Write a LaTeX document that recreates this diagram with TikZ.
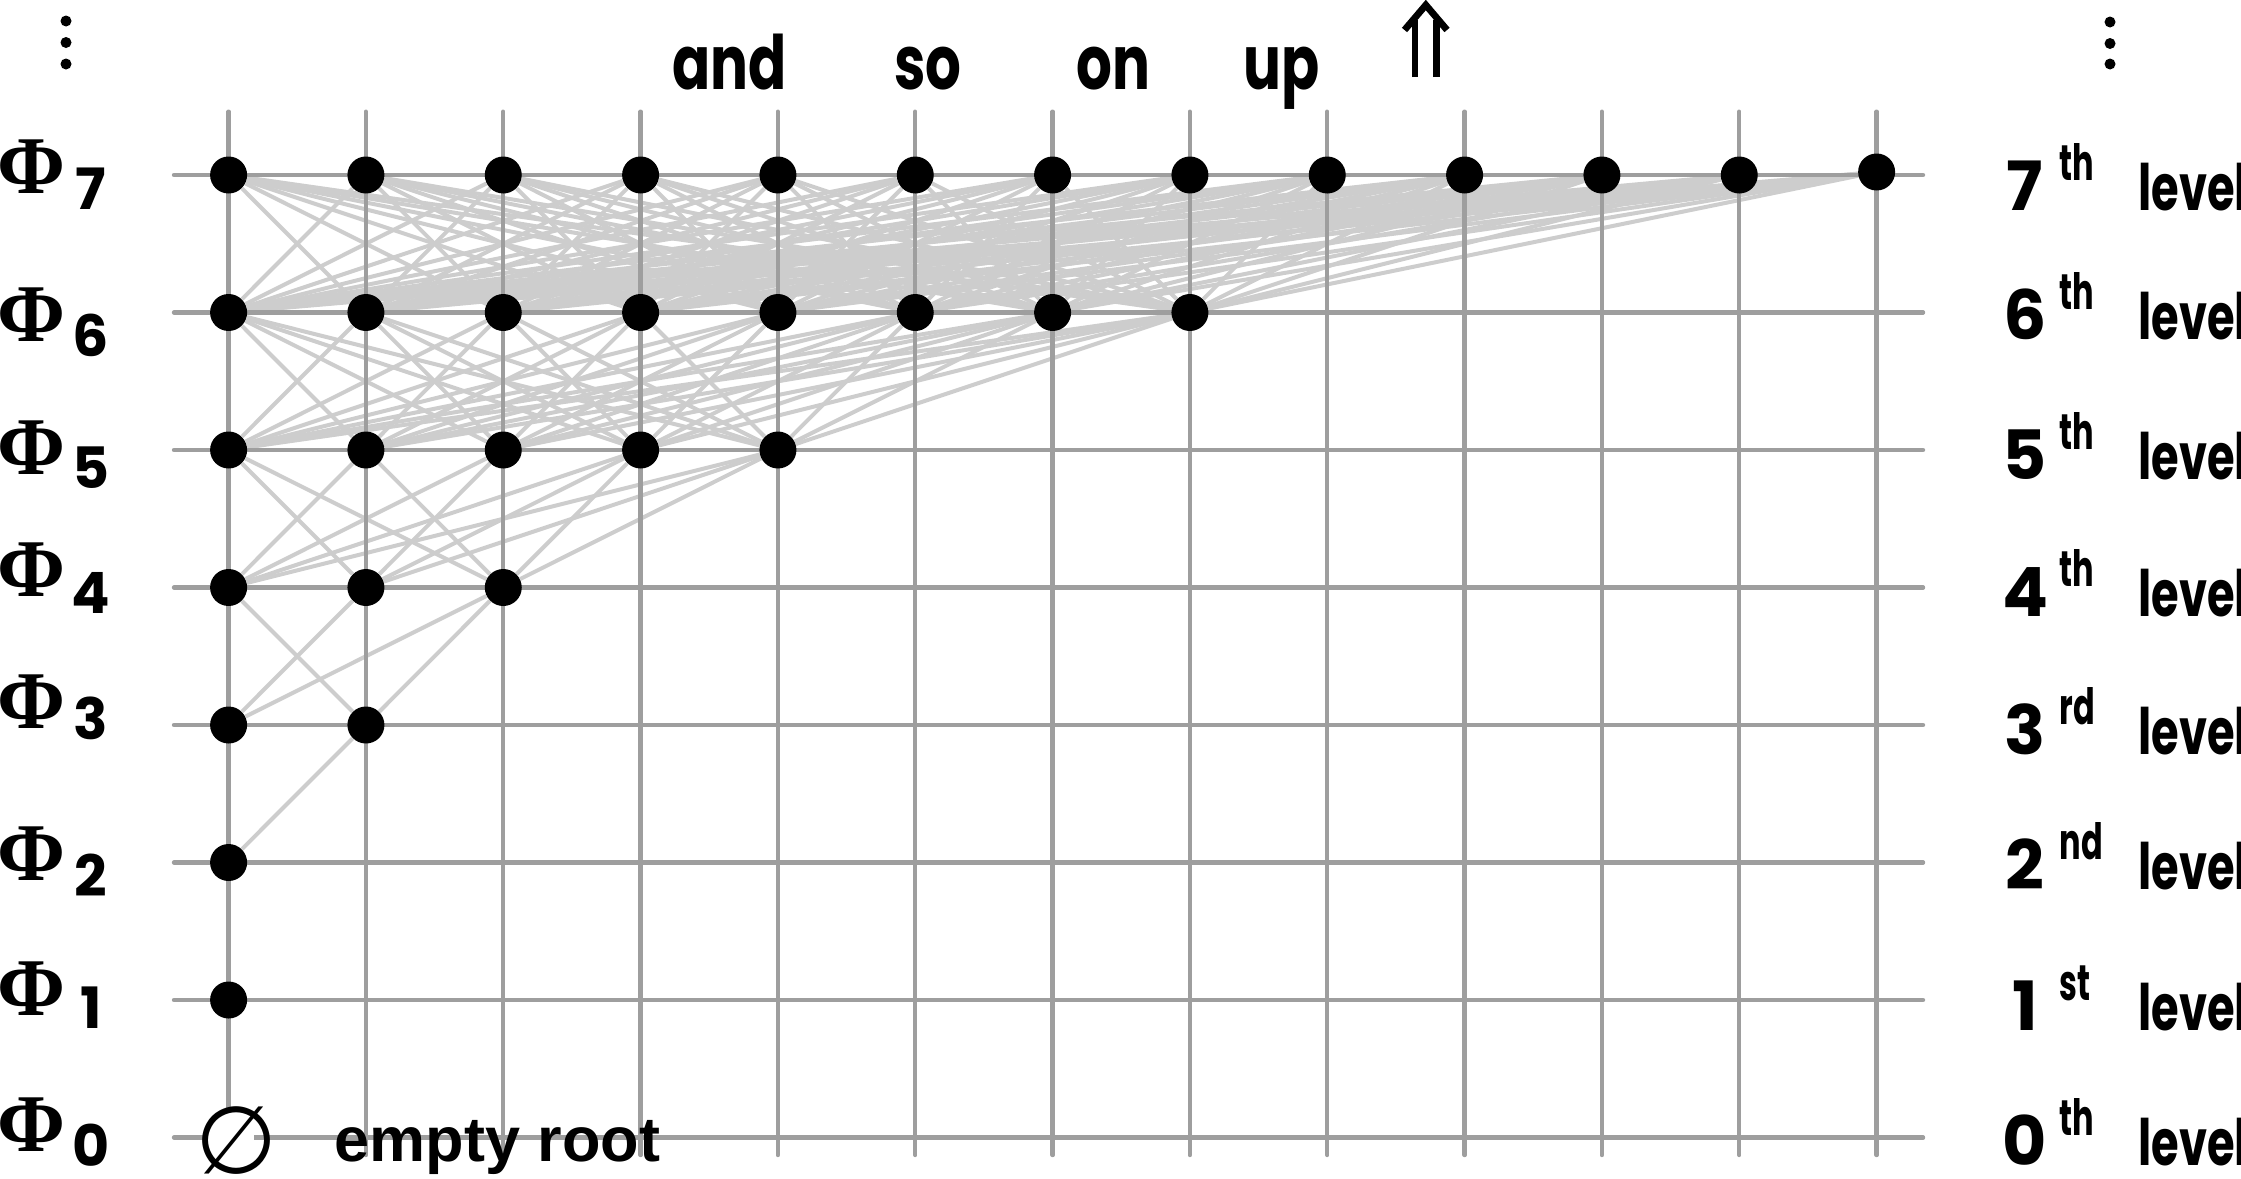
\documentclass[tikz,border=0pt]{standalone}
\usepackage{fontspec}
\usepackage{graphicx}
\newfontfamily\phifont{Liberation Serif}
\newfontfamily\futw{Poppins}[FakeStretch=0.75]
\newfontfamily\futl{Poppins}[FakeStretch=0.7]
\newfontfamily\futs{Poppins}[FakeStretch=0.64]
\newfontfamily\futd{Poppins}
\newfontfamily\arl{Liberation Sans}
\newfontfamily\dvs{DejaVu Sans}
\pgfdeclarelayer{edges}
\pgfdeclarelayer{gridlayer}
\pgfsetlayers{edges,gridlayer,main}
\definecolor{gridgray}{HTML}{9E9E9E}
\definecolor{edgegray}{HTML}{CDCDCD}
\tikzset{
  dot/.style={circle, fill=black, inner sep=0pt, minimum size=18.5pt},
  edge/.style={draw=edgegray, line width=2pt},
  gridline/.style={draw=gridgray, line width=2.2pt, line cap=round},
  philab/.style={inner sep=0pt, font=\phifont\bfseries\fontsize{41}{41}\selectfont},
  subdig/.style={inner sep=0pt, font=\futd\bfseries\fontsize{28.5}{28.5}\selectfont},
  lvdig/.style={inner sep=0pt, anchor=base, font=\futd\bfseries\fontsize{34}{34}\selectfont},
  lvsup/.style={inner sep=0pt, anchor=base west, font=\futs\bfseries\fontsize{25}{25}\selectfont},
  lvword/.style={inner sep=0pt, anchor=base west, font=\futl\bfseries\fontsize{32}{32}\selectfont},
  topword/.style={inner sep=0pt, anchor=base west, font=\futw\bfseries\fontsize{37.5}{37.5}\selectfont},
  vdot/.style={circle, fill=black, inner sep=0pt, minimum size=5.5pt},
  arrowline/.style={draw=black, line width=3.4pt},
}
\begin{document}
\begin{tikzpicture}[x=0.5pt, y=-0.5pt]
\useasboundingbox (0,0) rectangle (2241,1178);
% lattice vertices
\foreach \lv/\nn in {1/0,2/0,3/1,4/2,5/4,6/7,7/11}{
  \foreach \c in {0,...,\nn}{
    \node[dot] (v-\lv-\c) at ({228.6+137.33*\c},{1137.5-137.5*\lv}) {};
  }
}
\node[dot] (v-7-12) at (1876.6,172) {};
% connectors between consecutive levels
\begin{pgfonlayer}{edges}
\foreach \lv/\up/\nn/\mm in {1/2/0/0, 2/3/0/1, 3/4/1/2, 4/5/2/4, 5/6/4/7, 6/7/7/12}{
  \foreach \i in {0,...,\nn}{
    \foreach \j in {0,...,\mm}{
      \draw[edge] (v-\lv-\i) -- (v-\up-\j);
    }
  }
}
\end{pgfonlayer}
% grid
\begin{pgfonlayer}{gridlayer}
\foreach \lv in {0,...,7}{
  \draw[gridline] (174,{1137.5-137.5*\lv}) -- (1923,{1137.5-137.5*\lv});
}
\foreach \c in {0,...,12}{
  \draw[gridline] ({228.6+137.33*\c},111.7) -- ({228.6+137.33*\c},1155);
}
\fill[white] (203.6,1108) rectangle (253.6,1172);
\end{pgfonlayer}
% empty root
\node[inner sep=0pt] (root) at (236,1141) {\resizebox{41pt}{!}{\dvs ∅}};
\node[inner sep=0pt, anchor=base west, font=\arl\bfseries\fontsize{31.5}{31.5}\selectfont] (rootlab) at (334.5,1161.7) {empty root};
% left labels
\foreach \lv/\py/\dy in {7/166.5/188.3, 6/315/335, 5/448/468, 4/570/592.5, 3/701.5/718, 2/854/875, 1/988.5/1008, 0/1125/1145}{
  \node[philab] (phi-\lv) at (31,\py) {Φ};
  \node[subdig] (phisub-\lv) at (91,\dy) {\lv};
}
% right labels
\foreach \lv/\by/\sx in {7/210/th, 6/339/th, 5/479/th, 4/616/th, 3/754/rd, 2/889/nd, 1/1030/st, 0/1165/th}{
  \node[lvdig] (lvd-\lv) at (2025,\by) {\lv};
  \node[lvsup] (lvs-\lv) at (2059,{\by-30}) {\sx};
  \node[lvword] (lvw-\lv) at (2138,\by) {level};
}
% top words
\node[topword] (w-and) at (672,89.3) {and};
\node[topword] (w-so) at (894,89.3) {so};
\node[topword] (w-on) at (1076,89.3) {on};
\node[topword] (w-up) at (1243,89.3) {up};
% double arrow up
\draw[arrowline] (1415,77) -- (1415,20) (1436.7,77) -- (1436.7,20);
\draw[arrowline, miter limit=10] (1404.5,30) -- (1425.8,5) -- (1447,30);
% vertical ellipses
\node[vdot] (ldot1) at (66,21) {};
\node[vdot] (ldot2) at (66,42.5) {};
\node[vdot] (ldot3) at (66,64) {};
\node[vdot] (rdot1) at (2110,22) {};
\node[vdot] (rdot2) at (2110,43.5) {};
\node[vdot] (rdot3) at (2110,64) {};
\end{tikzpicture}
\end{document}
